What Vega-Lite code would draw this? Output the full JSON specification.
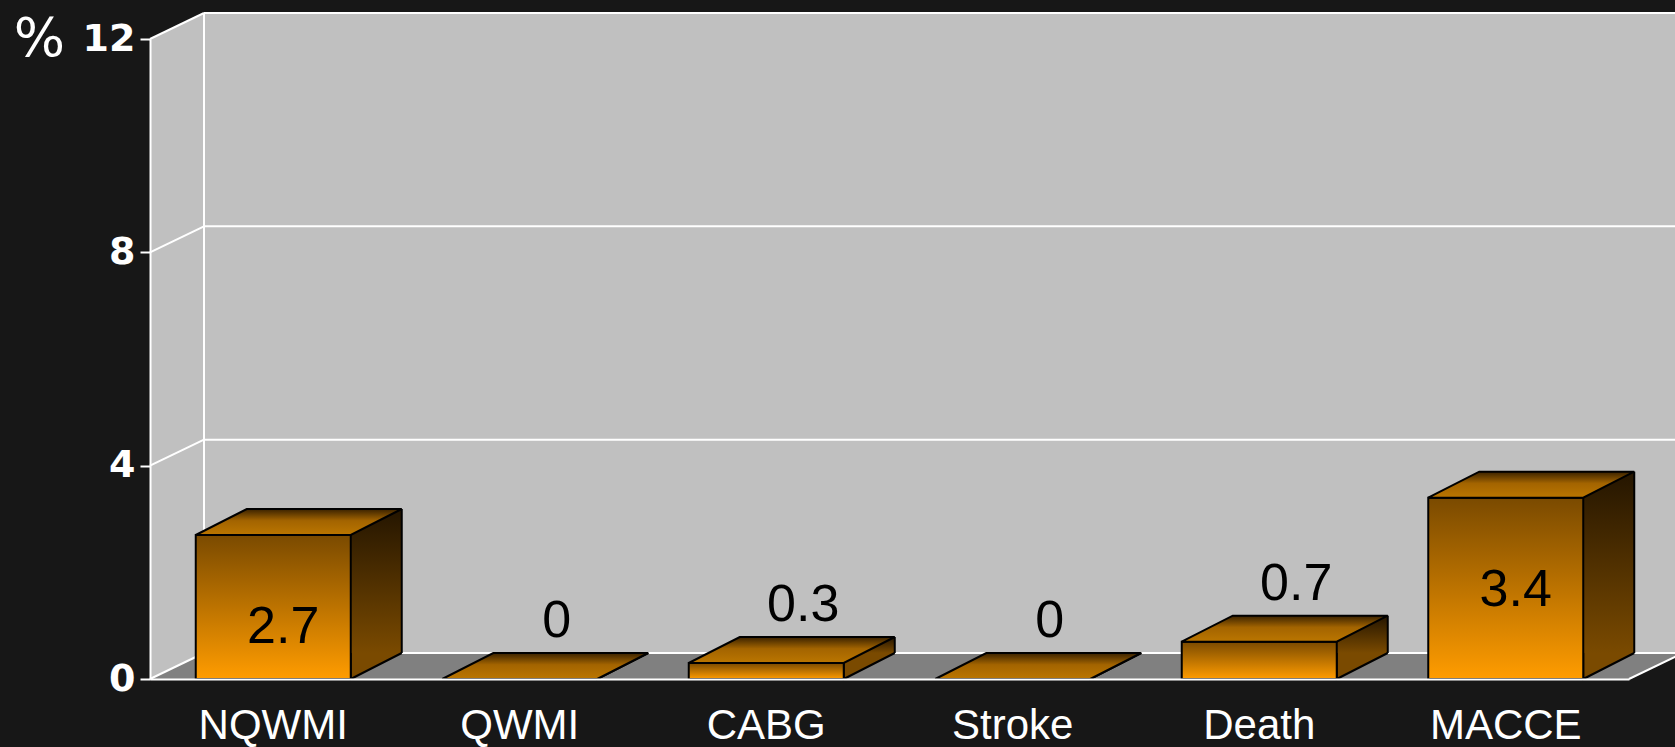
{
  "$schema": "https://vega.github.io/schema/vega-lite/v6.json",
  "width": 1479,
  "height": 640,
  "autosize": {"type": "none"},
  "padding": {"left": 150, "top": 39, "right": 46, "bottom": 68},
  "background": "#171717",
  "config": {"view": {"stroke": null}, "axis": {"grid": false}},
  "datasets": {
    "bars": [
      {"category": "NQWMI", "value": 2.7},
      {"category": "QWMI", "value": 0},
      {"category": "CABG", "value": 0.3},
      {"category": "Stroke", "value": 0},
      {"category": "Death", "value": 0.7},
      {"category": "MACCE", "value": 3.4}
    ],
    "ticks": [{"v": 0}, {"v": 4}, {"v": 8}, {"v": 12}],
    "frame": [{"part": "walls"}]
  },
  "resolve": {"scale": {"x": "independent"}},
  "layer": [
    {
      "data": {"name": "frame"},
      "layer": [
        {
          "mark": {"type": "rect", "fill": "#c0c0c0", "xOffset": 54, "x2Offset": 120, "yOffset": -26, "y2Offset": -26},
          "encoding": {
            "x": {"datum": 0, "type": "quantitative", "scale": {"domain": [0, 1]}, "axis": null},
            "x2": {"datum": 1},
            "y": {"datum": 12, "type": "quantitative", "scale": {"domain": [0, 12]}},
            "y2": {"datum": 0}
          }
        },
        {
          "mark": {"type": "rect", "fill": "#c0c0c0", "x2Offset": 55},
          "encoding": {
            "x": {"datum": 0, "type": "quantitative", "axis": null},
            "x2": {"datum": 0},
            "y": {"datum": 12, "type": "quantitative"},
            "y2": {"datum": 0}
          }
        },
        {
          "mark": {"type": "point", "shape": "M0,1 L0,0 L55,-26.5 L55,1 Z", "size": 4, "filled": true, "fill": "#c0c0c0", "strokeWidth": 0, "opacity": 1},
          "encoding": {
            "x": {"datum": 0, "type": "quantitative", "axis": null},
            "y": {"datum": 12, "type": "quantitative"}
          }
        },
        {
          "mark": {"type": "rect", "fill": "#808080", "xOffset": 54, "yOffset": -26},
          "encoding": {
            "x": {"datum": 0, "type": "quantitative", "axis": null},
            "x2": {"datum": 1},
            "y": {"datum": 0, "type": "quantitative"},
            "y2": {"datum": 0}
          }
        },
        {
          "mark": {"type": "point", "shape": "M0,0 L54,-26 L55,-26 L55,0 Z", "size": 4, "filled": true, "fill": "#808080", "strokeWidth": 0, "opacity": 1},
          "encoding": {
            "x": {"datum": 0, "type": "quantitative", "axis": null},
            "y": {"datum": 0, "type": "quantitative"}
          }
        },
        {
          "mark": {"type": "point", "shape": "M-1,0 L0,0 L54,-26 L-1,-26 Z", "size": 4, "filled": true, "fill": "#808080", "strokeWidth": 0, "opacity": 1},
          "encoding": {
            "x": {"datum": 1, "type": "quantitative", "axis": null},
            "y": {"datum": 0, "type": "quantitative"}
          }
        },
        {
          "data": {"name": "ticks"},
          "mark": {"type": "rule", "color": "white", "strokeWidth": 2, "xOffset": 54, "x2Offset": 120, "yOffset": -26},
          "encoding": {
            "x": {"datum": 0, "type": "quantitative", "axis": null},
            "x2": {"datum": 1},
            "y": {"field": "v", "type": "quantitative"}
          }
        },
        {
          "data": {"name": "ticks"},
          "mark": {"type": "rule", "color": "white", "strokeWidth": 2, "x2Offset": 54, "y2Offset": -26},
          "encoding": {
            "x": {"datum": 0, "type": "quantitative", "axis": null},
            "x2": {"datum": 0},
            "y": {"field": "v", "type": "quantitative"},
            "y2": {"field": "v"}
          }
        },
        {
          "mark": {"type": "rule", "color": "white", "strokeWidth": 2, "xOffset": 54, "yOffset": -26, "y2Offset": -26},
          "encoding": {
            "x": {"datum": 0, "type": "quantitative", "axis": null},
            "y": {"datum": 12, "type": "quantitative"},
            "y2": {"datum": 0}
          }
        },
        {
          "mark": {"type": "rule", "color": "white", "strokeWidth": 2, "x2Offset": 54, "y2Offset": -26},
          "encoding": {
            "x": {"datum": 1, "type": "quantitative", "axis": null},
            "x2": {"datum": 1},
            "y": {"datum": 0, "type": "quantitative"},
            "y2": {"datum": 0}
          }
        }
      ]
    },
    {
      "data": {"name": "bars"},
      "encoding": {
        "x": {
          "field": "category", "type": "nominal", "sort": null,
          "scale": {"paddingInner": 0, "paddingOuter": 0},
          "axis": {
            "title": null, "domain": true, "domainColor": "white", "domainWidth": 2,
            "ticks": false, "tickSize": 0, "labelPadding": 59, "labelBaseline": "alphabetic",
            "labelAngle": 0, "labelFont": "Liberation Sans", "labelFontSize": 42,
            "labelColor": "white", "zindex": 1
          }
        }
      },
      "layer": [
        {
          "mark": {
            "type": "bar", "width": 51, "xOffset": 103, "yOffset": -26, "y2Offset": -26,
            "opacity": 1, "strokeWidth": 0,
            "fill": {"gradient": "linear", "x1": 0, "y1": 0, "x2": 0, "y2": 1,
              "stops": [{"offset": 0, "color": "#241500"}, {"offset": 1, "color": "#7a4a00"}]}
          },
          "encoding": {
            "y": {
              "field": "value", "type": "quantitative", "scale": {"domain": [0, 12]},
              "axis": {
                "values": [0, 4, 8, 12], "title": "%", "titleAngle": 0, "titleX": -111, "titleY": 0,
                "titleAlign": "center", "titleBaseline": "middle", "titleFont": "DejaVu Sans",
                "titleFontSize": 54, "titleFontWeight": "normal", "titleColor": "white",
                "domainColor": "white", "domainWidth": 2, "tickColor": "white", "tickWidth": 2,
                "tickSize": 10, "labelPadding": 5, "labelFont": "DejaVu Sans", "labelFontWeight": "bold",
                "labelFontSize": 38, "labelColor": "white", "grid": false, "zindex": 1
              }
            },
            "y2": {"datum": 0}
          }
        },
        {
          "mark": {"type": "rule", "xOffset": 128.5, "yOffset": -26, "y2Offset": -26, "color": "black", "strokeWidth": 2},
          "encoding": {
            "y": {"field": "value", "type": "quantitative"},
            "y2": {"datum": 0}
          }
        },
        {
          "mark": {"type": "point", "shape": "M0,-26 L0,0 L51,-26", "size": 4, "filled": true, "fill": "#7a4a00", "stroke": "black", "strokeWidth": 2, "opacity": 1, "xOffset": 77.5},
          "encoding": {
            "y": {"datum": 0, "type": "quantitative"}
          }
        },
        {
          "mark": {
            "type": "bar", "width": 155, "opacity": 1, "stroke": "black", "strokeWidth": 2,
            "fill": {"gradient": "linear", "x1": 0, "y1": 0, "x2": 0, "y2": 1,
              "stops": [{"offset": 0, "color": "#7a4a00"}, {"offset": 1, "color": "#ff9c00"}]}
          },
          "encoding": {
            "y": {"field": "value", "type": "quantitative"},
            "y2": {"datum": 0}
          }
        },
        {
          "mark": {
            "type": "point", "shape": "M0,0 L155,0 L206,-26 L51,-26 Z", "size": 4, "filled": true, "opacity": 1,
            "stroke": "black", "strokeWidth": 2, "xOffset": -77.5,
            "fill": {"gradient": "linear", "x1": 0, "y1": 0, "x2": 0, "y2": 1,
              "stops": [{"offset": 0, "color": "#3a2200"}, {"offset": 0.45, "color": "#a36400"}, {"offset": 1, "color": "#bb7600"}]}
          },
          "encoding": {
            "y": {"field": "value", "type": "quantitative"}
          }
        },
        {
          "transform": [{"filter": "datum.value < 2"}],
          "mark": {"type": "text", "dx": 37, "dy": -42, "baseline": "alphabetic", "align": "center", "font": "Liberation Sans", "fontSize": 52, "color": "black"},
          "encoding": {
            "y": {"field": "value", "type": "quantitative"},
            "text": {"field": "value", "type": "quantitative"}
          }
        },
        {
          "transform": [{"filter": "datum.value >= 2"}],
          "mark": {"type": "text", "dx": 10, "dy": 108, "baseline": "alphabetic", "align": "center", "font": "Liberation Sans", "fontSize": 52, "color": "black"},
          "encoding": {
            "y": {"field": "value", "type": "quantitative"},
            "text": {"field": "value", "type": "quantitative"}
          }
        }
      ]
    }
  ]
}
